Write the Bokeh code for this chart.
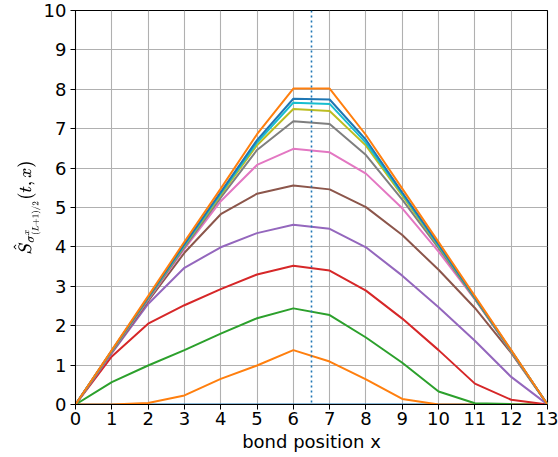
from bokeh.plotting import figure
from bokeh.models import FixedTicker, Range1d, Span
from bokeh.embed import file_html
from bokeh.resources import INLINE

bonds = list(range(14))
x_ticks = list(range(14))
y_ticks = list(range(11))

s0 = [0, 0, 0, 0, 0, 0, 0, 0, 0, 0, 0, 0, 0, 0]
s1 = [0, 0, 0.04, 0.23, 0.65, 0.99, 1.38, 1.09, 0.64, 0.14, 0, 0, 0, 0]
s2 = [0, 0.57, 0.99, 1.38, 1.80, 2.19, 2.44, 2.27, 1.70, 1.06, 0.33, 0.03, 0.01, 0]
s3 = [0, 1.22, 2.05, 2.52, 2.93, 3.30, 3.52, 3.40, 2.89, 2.18, 1.38, 0.53, 0.12, 0]
s4 = [0, 1.30, 2.55, 3.47, 3.99, 4.35, 4.56, 4.46, 3.99, 3.27, 2.47, 1.62, 0.70, 0]
s5 = [0, 1.33, 2.62, 3.85, 4.83, 5.35, 5.56, 5.46, 5.01, 4.30, 3.42, 2.45, 1.31, 0]
s6 = [0, 1.34, 2.66, 3.95, 5.16, 6.08, 6.49, 6.40, 5.86, 4.98, 3.88, 2.67, 1.34, 0]
s7 = [0, 1.35, 2.68, 3.99, 5.25, 6.46, 7.19, 7.12, 6.33, 5.20, 3.97, 2.68, 1.35, 0]
s8 = [0, 1.36, 2.70, 4.03, 5.32, 6.58, 7.50, 7.45, 6.57, 5.30, 4.02, 2.70, 1.36, 0]
s9 = [0, 1.36, 2.71, 4.05, 5.36, 6.65, 7.66, 7.63, 6.64, 5.35, 4.04, 2.71, 1.36, 0]
s10 = [0, 1.37, 2.72, 4.07, 5.39, 6.71, 7.76, 7.74, 6.72, 5.38, 4.06, 2.72, 1.37, 0]
s11 = [0, 1.38, 2.75, 4.13, 5.48, 6.86, 8.02, 8.02, 6.84, 5.48, 4.12, 2.75, 1.38, 0]

series = [s0, s1, s2, s3, s4, s5, s6, s7, s8, s9, s10, s11]
colors = ["#1f77b4", "#ff7f0e", "#2ca02c", "#d62728", "#9467bd", "#8c564b",
          "#e377c2", "#7f7f7f", "#bcbd22", "#17becf", "#1f77b4", "#ff7f0e"]
center_bond = 6.5

p = figure(width=558, height=457, output_backend="svg", toolbar_location=None,
           x_range=Range1d(0, 13), y_range=Range1d(0, 10),
           min_border_left=75, min_border_right=11, min_border_top=10, min_border_bottom=53)
p.background_fill_color = "white"
p.border_fill_color = "white"
p.outline_line_color = "black"
p.outline_line_width = 1.1
p.outline_line_alpha = 1

p.add_layout(Span(location=center_bond, dimension="height", line_color="#1f77b4",
                  line_dash="2 3", line_width=1.6))

for ys, c in zip(series, colors):
    p.line(bonds, ys, line_color=c, line_width=2)

for ax in (p.xaxis[0], p.yaxis[0]):
    ax.major_tick_out = 5
    ax.major_tick_in = 0
    ax.minor_tick_line_color = None
    ax.axis_line_color = "black"
    ax.major_tick_line_color = "black"
    ax.major_label_text_font = "DejaVu Sans"
    ax.major_label_text_font_size = "18px"
    ax.major_label_text_color = "black"
    ax.axis_label_text_font = "DejaVu Sans"
    ax.axis_label_text_font_size = "18px"
    ax.axis_label_text_font_style = "normal"
    ax.axis_label_text_color = "black"

p.xaxis.major_label_standoff = 2
p.xaxis.axis_label_standoff = 3
p.yaxis.major_label_standoff = 4
p.yaxis.axis_label_standoff = 0
p.yaxis.axis_label_text_font_size = "14px"

p.xaxis.ticker = FixedTicker(ticks=x_ticks)
p.yaxis.ticker = FixedTicker(ticks=y_ticks)
p.xaxis.axis_label = "bond position x"
p.yaxis.axis_label = r"$$\hat{S}_{\sigma^x_{(L+1)/2}}(t,x)$$"

p.xgrid.ticker = FixedTicker(ticks=x_ticks)
p.ygrid.ticker = FixedTicker(ticks=y_ticks)
p.grid.grid_line_color = "#b0b0b0"
p.grid.grid_line_width = 1.1
p.grid.grid_line_alpha = 1

open("out.html", "w").write(file_html(p, INLINE))
